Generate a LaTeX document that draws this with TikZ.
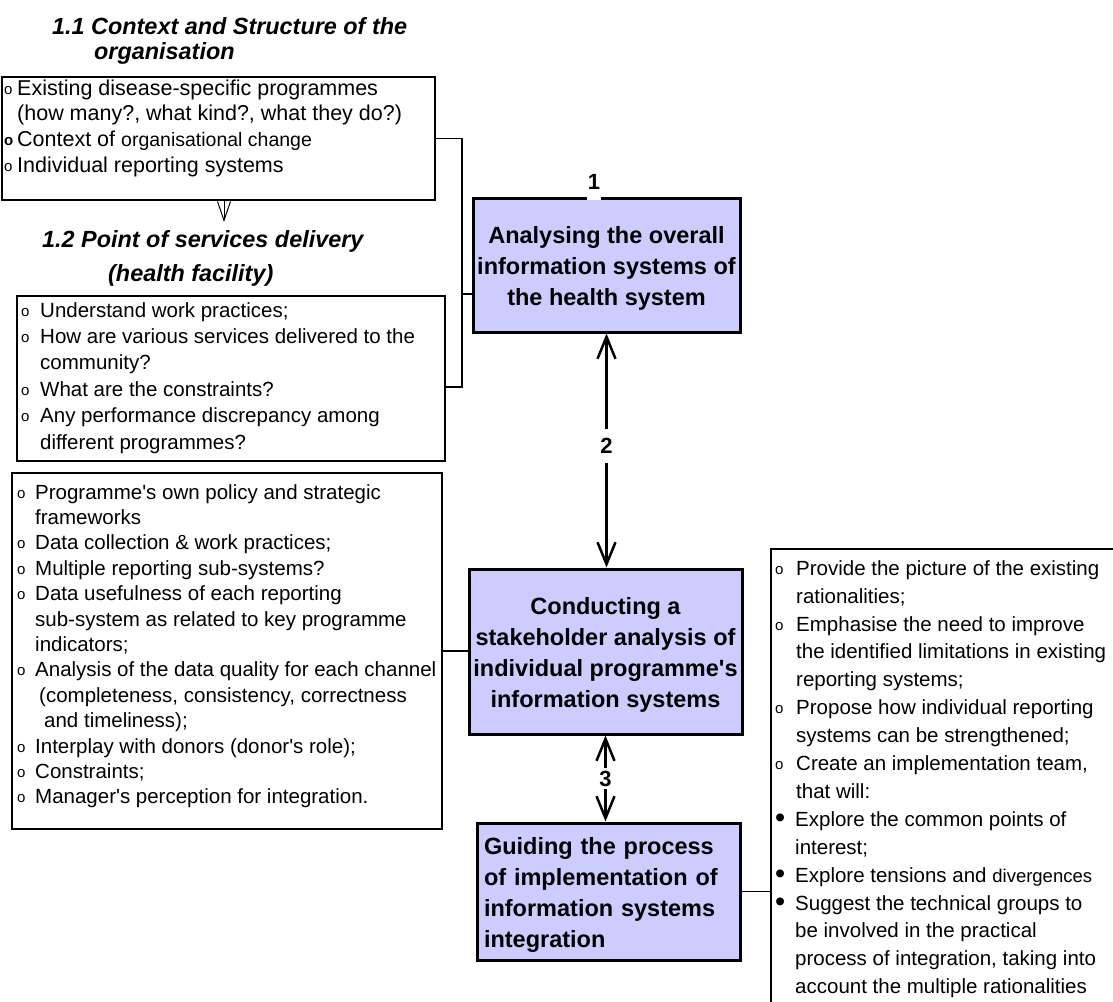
\documentclass[tikz,border=0pt]{standalone}
\usepackage{fontspec}
\setmainfont{Liberation Sans}[Ligatures=TeXOff]
\usetikzlibrary{arrows.meta}
\definecolor{stagefill}{RGB}{204,204,255}
\newcommand{\obul}[1]{\makebox[#1][l]{\raisebox{1pt}{\fontsize{15}{15}\selectfont o}}}
\newcommand{\fbul}[1]{\makebox[#1][l]{\raisebox{-1.5pt}{\fontsize{29}{29}\selectfont •}}}
\newcommand{\tallfirst}{\rule{0pt}{23pt}}
\begin{document}
\begin{tikzpicture}[x=1pt,y=-1pt,
  listbox/.style={draw=black, line width=1.2pt, fill=white, anchor=north west, inner sep=0pt, outer sep=0pt},
  listtext/.style={anchor=north west, align=left, inner sep=0pt},
  stagebox/.style={draw=black, line width=3pt, fill=stagefill, anchor=north west, inner ysep=0pt, font=\bfseries\fontsize{23.5}{31}\selectfont},
  heading/.style={anchor=north west, align=left, inner sep=0pt},
  numlabel/.style={fill=white, inner xsep=1pt, font=\bfseries\fontsize{22}{22}\selectfont},
  conn/.style={draw=black, line width=1.2pt},
  stagearrow/.style={draw=black, line width=2.5pt, {Straight Barb[length=22pt,width=18pt]}-{Straight Barb[length=22pt,width=18pt]}},
  smallarrow/.style={draw=black, line width=1pt, -{Straight Barb[length=19pt,width=13pt]}}
]
\useasboundingbox (0,0) rectangle (1113,1001);
\clip (0,0) rectangle (1113,1001);

% headings
\node[heading, font=\bfseries\itshape\fontsize{23.4}{24}\selectfont] (title11) at (52,17.2)
  {\strut 1.1 Context and Structure of the\\\hspace*{42pt}organisation};
\node[heading, font=\bfseries\itshape\fontsize{23.4}{34}\selectfont] (title12) at (42,223.2)
  {\strut 1.2 Point of services delivery\\\hspace*{66pt}(health facility)};

% list box A
\node[listbox, minimum width=433pt, minimum height=123pt] (boxA) at (2,77) {};
\node[listtext, font=\fontsize{21.5}{25.7}\selectfont] (textA) at (4,77)
  {\strut\obul{13pt}Existing disease-specific programmes\\
   \hspace*{13pt}(how many?, what kind?, what they do?)\\
   \makebox[13pt][l]{\raisebox{1pt}{\fontsize{15}{15}\selectfont\bfseries o}}Context of {\fontsize{19.5}{25.7}\selectfont organisational change}\\
   \obul{13pt}Individual reporting systems};

% list box B
\node[listbox, minimum width=428pt, minimum height=165pt] (boxB) at (17,296) {};
\node[listtext, font=\fontsize{20.5}{26.4}\selectfont] (textB) at (21,298.5)
  {\strut\obul{19pt}Understand work practices;\\
   \obul{19pt}How are various services delivered to the\\
   \hspace*{19pt}community?\\
   \obul{19pt}What are the constraints?\\
   \obul{19pt}Any performance discrepancy among\\
   \hspace*{19pt}different programmes?};

% list box C
\node[listbox, minimum width=430pt, minimum height=356pt] (boxC) at (12,473) {};
\node[listtext, font=\fontsize{20.5}{25.4}\selectfont] (textC) at (17,481.2)
  {\strut\obul{18pt}Programme's own policy and strategic\\
   \hspace*{18pt}frameworks\\
   \obul{18pt}Data collection \& work practices;\\
   \obul{18pt}Multiple reporting sub-systems?\\
   \obul{18pt}Data usefulness of each reporting\\
   \hspace*{18pt}sub-system as related to key programme\\
   \hspace*{18pt}indicators;\\
   \obul{18pt}Analysis of the data quality for each channel\\
   \hspace*{22pt}(completeness, consistency, correctness\\
   \hspace*{27pt}and timeliness);\\
   \obul{18pt}Interplay with donors (donor's role);\\
   \obul{18pt}Constraints;\\
   \obul{18pt}Manager's perception for integration.};

% list box D
\node[listbox, minimum width=350pt, minimum height=470pt] (boxD) at (771,549) {};
\node[listtext, font=\fontsize{20.5}{27.9}\selectfont] (textD) at (775,555.5)
  {\strut\obul{21pt}Provide the picture of the existing\\
   \hspace*{21pt}rationalities;\\
   \obul{21pt}Emphasise the need to improve\\
   \hspace*{21pt}the identified limitations in existing\\
   \hspace*{21pt}reporting systems;\\
   \obul{21pt}Propose how individual reporting\\
   \hspace*{21pt}systems can be strengthened;\\
   \obul{21pt}Create an implementation team,\\
   \hspace*{21pt}that will:\\
   \fbul{20pt}Explore the common points of\\
   \hspace*{20pt}interest;\\
   \fbul{20pt}Explore tensions and {\fontsize{18.5}{27.9}\selectfont divergences}\\
   \fbul{20pt}Suggest the technical groups to\\
   \hspace*{20pt}be involved in the practical\\
   \hspace*{20pt}process of integration, taking into\\
   \hspace*{20pt}account the multiple rationalities};

% stage boxes
\node[stagebox, minimum width=267pt, minimum height=134pt, inner xsep=4pt, align=center] (box1) at (471.5,196.5)
  {\tallfirst Analysing the overall\\information systems of\\the health system};
\node[stagebox, minimum width=273pt, minimum height=165pt, inner xsep=4pt, align=center] (box2) at (467.5,567.5)
  {\tallfirst Conducting a\\stakeholder analysis of\\individual programme's\\information systems};
\node[stagebox, minimum width=263pt, minimum height=137pt, text width=249pt, inner xsep=7pt, align=left] (box3) at (475.5,821.5)
  {\tallfirst Guiding the process\\of implementation of\\information systems\\integration};

\node[numlabel, anchor=south, inner ysep=10pt] (lab1) at ([xshift=-12.5pt,yshift=-3.5pt]box1.north) {1};

% connectors
\coordinate (arrA) at (224,222);
\draw[smallarrow] ([xshift=5.5pt]boxA.south) -- (arrA);

\coordinate (brk) at (462,294);
\draw[conn] (boxA.east) -| (brk);
\draw[conn] ([yshift=-8.5pt]boxB.east) -| (brk);
\draw[conn] (brk) -- (brk -| box1.west);
\draw[conn] (boxC.east) -- (boxC.east -| box2.west);
\draw[conn] (box3.east) -- (box3.east -| boxD.west);

\draw[stagearrow] (box1.south) -- node[numlabel, pos=0.48, inner ysep=9pt] (lab2) {2} (box1.south |- box2.north);
\draw[stagearrow] (box2.south) -- node[numlabel, inner ysep=3pt] (lab3) {3} (box2.south |- box3.north);
\end{tikzpicture}
\end{document}
